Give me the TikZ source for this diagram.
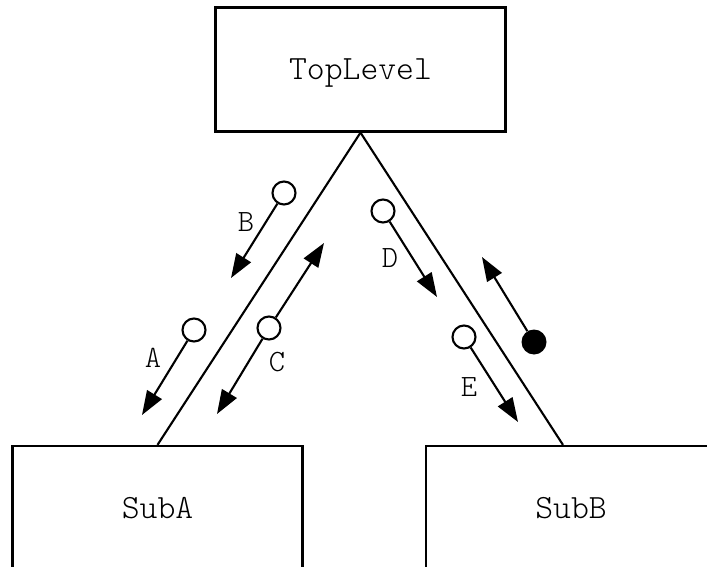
\documentclass[tikz,border=0pt]{standalone}
\usetikzlibrary{arrows.meta}
\begin{document}
\begin{tikzpicture}[x=1pt,y=-1pt,
  box/.style={draw, line width=2.2pt, minimum width=290pt, minimum height=124pt, inner sep=0pt, text depth=0pt, font=\ttfamily\fontseries{l}\fontsize{34}{36}\selectfont},
  link/.style={line width=2.1pt},
  flow/.style={line width=2.1pt, -{Triangle[length=24pt,width=17pt]}},
  couple/.style={circle, draw, line width=2.1pt, minimum size=23pt, inner sep=0pt},
  flag/.style={circle, fill, minimum size=25pt, inner sep=0pt},
  lbl/.style={font=\ttfamily\fontseries{l}\fontsize{31}{33}\selectfont, inner sep=0pt}]
\useasboundingbox (0,0) rectangle (707,567);
\node[box] (top) at (360.5,69.5) {TopLevel};
\node[box] (suba) at (157.5,508) {SubA};
\node[box] (subb) at (571,508) {SubB};
\draw[link] (top.south) -- (suba.north);
\draw[link] (top.south) -- ([xshift=-8pt]subb.north);
% B
\node[couple] (cB) at (284,193) {};
\coordinate (tB) at (231,278);
\draw[flow] (cB) -- (tB);
\node[lbl] (lB) at (246,222) {B};
% A
\node[couple] (cA) at (194,330) {};
\coordinate (tA) at (142,415);
\draw[flow] (cA) -- (tA);
\node[lbl] (lA) at (153,358) {A};
% C
\node[couple] (cC) at (269,328) {};
\coordinate (tCu) at (324,243);
\coordinate (tCd) at (217,414);
\draw[flow] (cC) -- (tCu);
\draw[flow] (cC) -- (tCd);
\node[lbl] (lC) at (277,362) {C};
% D
\node[couple] (cD) at (383,211) {};
\coordinate (tD) at (437,297);
\draw[flow] (cD) -- (tD);
\node[lbl] (lD) at (390,258) {D};
% E
\node[couple] (cE) at (464,337) {};
\coordinate (tE) at (518,422);
\draw[flow] (cE) -- (tE);
\node[lbl] (lE) at (469,387) {E};
% control flag
\node[flag] (cF) at (534,342) {};
\coordinate (tF) at (482,257);
\draw[flow] (cF) -- (tF);
\end{tikzpicture}
\end{document}
